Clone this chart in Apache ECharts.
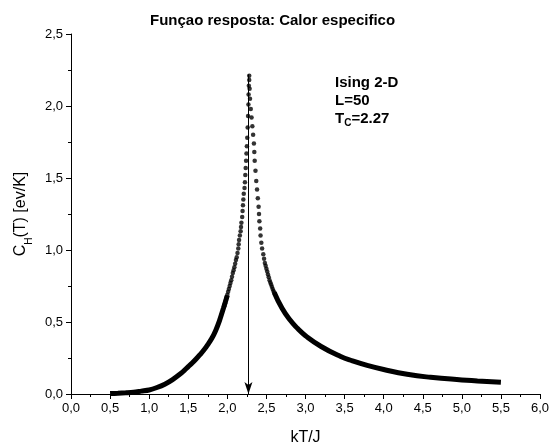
<!DOCTYPE html>
<html>
<head>
<meta charset="utf-8">
<script src="https://cdn.jsdelivr.net/npm/echarts@6/dist/echarts.min.js"></script>
<style>html,body{margin:0;padding:0;background:#fff}#c{width:552px;height:446px}</style>
</head>
<body>
<div id="c"></div>
<script>
// Left tail (dense, appears as a thick line)
var leftTail = [
  [0.5,0.003],[0.6,0.005],[0.7,0.008],[0.8,0.012],[0.9,0.02],[1.0,0.028],
  [1.1,0.045],[1.2,0.068],[1.3,0.1],[1.4,0.14],[1.45,0.164],[1.5,0.19],[1.55,0.215],
  [1.6,0.243],[1.65,0.273],[1.7,0.305],[1.75,0.343],[1.8,0.385],[1.85,0.44],
  [1.9,0.51],[1.95,0.595],[2.0,0.685]
];
// Right tail
var rightTail = [
  [2.6,0.705],[2.7,0.595],[2.8,0.515],[2.9,0.455],[3.0,0.405],[3.2,0.33],
  [3.45,0.26],[3.6,0.23],[3.8,0.197],[4.0,0.17],[4.3,0.137],[4.6,0.116],
  [5.0,0.098],[5.2,0.091],[5.5,0.081]
];
// Separate points near the peak (left branch, then right branch)
var peakLeft = [
  [1.96,0.61],[1.97,0.63],[1.98,0.65],[1.99,0.67],[2.00,0.69],[2.01,0.71],
  [2.02,0.73],[2.03,0.75],[2.04,0.77],[2.05,0.79],[2.06,0.815],[2.07,0.84],
  [2.08,0.86],[2.09,0.88],[2.10,0.905],[2.11,0.93],[2.12,0.95],[2.13,0.98],
  [2.14,1.01],[2.145,1.04],[2.15,1.07],[2.16,1.10],[2.17,1.13],[2.175,1.16],
  [2.18,1.19],[2.19,1.23],[2.195,1.27],[2.20,1.31],[2.205,1.35],[2.21,1.39],
  [2.22,1.43],[2.225,1.47],[2.23,1.52],[2.235,1.57],[2.24,1.62],[2.245,1.67],
  [2.25,1.72],[2.255,1.78],[2.26,1.85],[2.265,1.93],[2.27,2.01],[2.272,2.08],
  [2.275,2.14],[2.28,2.18],[2.28,2.21]
];
var peakRight = [
  [2.285,2.12],[2.29,2.05],[2.30,1.98],[2.31,1.92],[2.32,1.86],[2.33,1.80],
  [2.34,1.74],[2.345,1.68],[2.35,1.62],[2.36,1.55],[2.37,1.48],[2.38,1.42],
  [2.39,1.36],[2.40,1.30],[2.405,1.25],[2.41,1.20],[2.42,1.15],[2.425,1.10],
  [2.435,1.05],[2.445,1.01],[2.46,0.97],[2.47,0.94],[2.48,0.91],[2.49,0.89],
  [2.50,0.87],[2.51,0.85],[2.52,0.83],[2.53,0.81],[2.54,0.79],[2.55,0.775],
  [2.56,0.76],[2.57,0.745],[2.58,0.73],[2.59,0.715],[2.60,0.705]
];
var Tc = 2.27;
var arrowTop = 2.22;

var FONT = '"Liberation Sans", Arial, sans-serif';
var fmt = function (v) { return v.toFixed(1).replace('.', ','); };

var chart = echarts.init(document.getElementById('c'));
chart.setOption({
  animation: false,
  backgroundColor: '#fff',
  textStyle: { fontFamily: FONT, color: '#000' },
  title: {
    text: 'Funçao resposta: Calor especifico',
    left: 145, top: 8,
    textStyle: { fontFamily: FONT, fontSize: 15, fontWeight: 'bold', color: '#000' }
  },
  grid: { left: 71, right: 12, top: 34, bottom: 52, outerBoundsMode: 'none', containLabel: false },
  xAxis: {
    type: 'value', min: 0, max: 6, interval: 0.5,
    name: 'kT/J', nameLocation: 'middle', nameGap: 36,
    nameTextStyle: { fontFamily: FONT, fontSize: 16, color: '#000' },
    axisLine: { show: true, lineStyle: { color: '#000', width: 1 } },
    axisTick: { show: true, length: 5, lineStyle: { color: '#000' } },
    minorTick: { show: true, splitNumber: 2, length: 3, lineStyle: { color: '#000' } },
    splitLine: { show: false },
    axisLabel: { fontFamily: FONT, fontSize: 13, color: '#000', margin: 8, formatter: fmt }
  },
  yAxis: {
    type: 'value', min: 0, max: 2.5, interval: 0.5,
    name: '{a|C}{s|H}{a|(T) [ev/K]}', nameLocation: 'middle', nameGap: 34,
    nameTextStyle: {
      fontFamily: FONT, fontSize: 16, color: '#000',
      rich: {
        a: { fontFamily: FONT, fontSize: 16, color: '#000', lineHeight: 26, verticalAlign: 'middle' },
        s: { fontFamily: FONT, fontSize: 10, color: '#000', lineHeight: 10, verticalAlign: 'bottom' }
      }
    },
    axisLine: { show: true, lineStyle: { color: '#000', width: 1 } },
    axisTick: { show: true, length: 5, lineStyle: { color: '#000' } },
    minorTick: { show: true, splitNumber: 2, length: 3, lineStyle: { color: '#000' } },
    splitLine: { show: false },
    axisLabel: { fontFamily: FONT, fontSize: 13, color: '#000', margin: 8, formatter: fmt }
  },
  series: [
    {
      type: 'line', data: leftTail, smooth: 0.3, showSymbol: false, silent: true,
      lineStyle: { color: '#000', width: 5 }
    },
    {
      type: 'line', data: rightTail, smooth: true, showSymbol: false, silent: true,
      lineStyle: { color: '#000', width: 5 }
    },
    {
      type: 'scatter', data: peakLeft, symbolSize: 4.5, silent: true,
      itemStyle: { color: '#000' }
    },
    {
      type: 'scatter', data: peakRight, symbolSize: 4.5, silent: true,
      itemStyle: { color: '#000' },
      markLine: {
        silent: true, symbol: ['none', 'arrow'], symbolSize: [6, 12],
        label: { show: false },
        lineStyle: { color: '#000', width: 1, type: 'solid' },
        data: [[{ coord: [Tc, arrowTop] }, { coord: [Tc, 0] }]]
      }
    }
  ],
  graphic: [
    {
      type: 'text', left: 335, top: 74,
      style: {
        text: 'Ising 2-D\nL=50\n{t|T}{c|C}{t|=2.27}',
        font: 'bold 15px ' + FONT, fill: '#000', lineHeight: 18,
        rich: {
          t: { font: 'bold 15px ' + FONT, fill: '#000', lineHeight: 18, verticalAlign: 'middle' },
          c: { font: 'bold 10px ' + FONT, fill: '#000', lineHeight: 6, verticalAlign: 'bottom' }
        }
      }
    }
  ]
});
</script>
</body>
</html>
